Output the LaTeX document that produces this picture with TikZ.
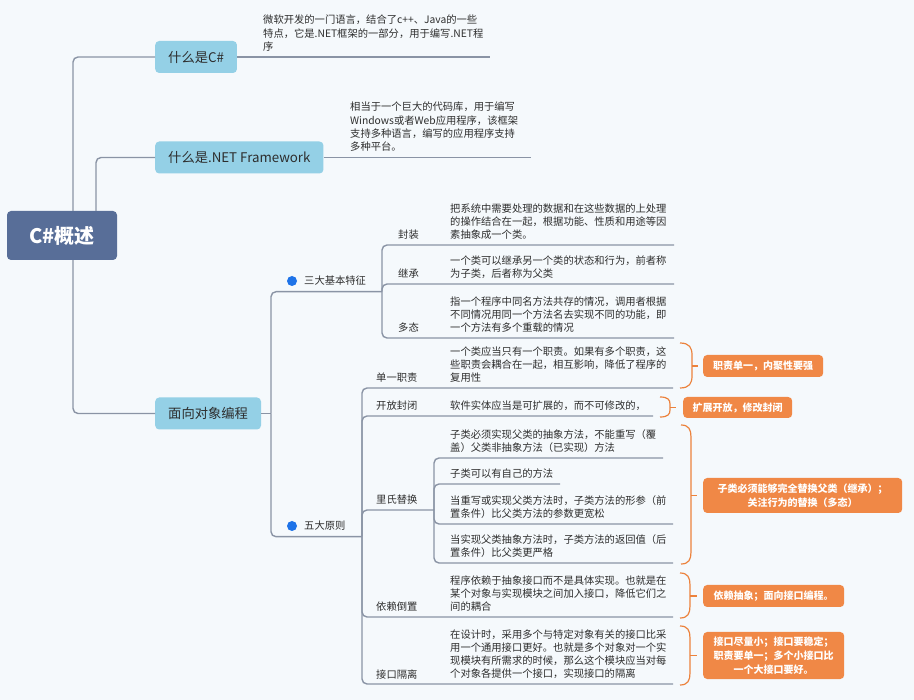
\documentclass[tikz,border=0pt]{standalone}
\usepackage{fontspec}
\setmainfont{Noto Sans CJK SC}
\definecolor{bgc}{RGB}{245,249,252}
\definecolor{linec}{RGB}{138,148,165}
\definecolor{topicblue}{RGB}{148,208,230}
\definecolor{rootblue}{RGB}{88,110,152}
\definecolor{textdark}{RGB}{45,45,45}
\definecolor{orangef}{RGB}{240,136,70}
\definecolor{orangel}{RGB}{236,130,60}
\definecolor{dotblue}{RGB}{30,115,232}
\tikzset{
  conn/.style={draw=linec, line width=1.4pt, rounded corners=5pt},
  topic/.style={fill=topicblue, rounded corners=4pt, text=textdark, font=\fontsize{13.3pt}{16pt}\selectfont, inner xsep=13pt, inner ysep=0pt, minimum height=32pt, anchor=west},
  rootnode/.style={fill=rootblue, rounded corners=4pt, text=white, font=\fontsize{20pt}{24pt}\selectfont\bfseries, minimum width=110pt, minimum height=49pt},
  desc/.style={inner sep=0pt, text=textdark, font=\fontsize{10.3pt}{13pt}\selectfont},
  lbl/.style={desc, anchor=base west},
  sumbox/.style={fill=orangef, rounded corners=4pt, text=white, font=\fontsize{10pt}{14pt}\selectfont\bfseries, align=center, inner sep=0pt, anchor=west},
  brk/.style={draw=orangel, line width=1.2pt},
  bdot/.style={circle, fill=dotblue, inner sep=0pt, minimum size=10pt},
}
% #1 name prefix, #2 x, #3 first baseline y, #4 lines
\newcommand\para[4]{%
  \foreach \t [count=\i] in {#4} {%
    \node[desc, anchor=base west] (#1\i) at (#2, {#3+(\i-1)*13.3}) {\t};
  }}
% #1 x0, #2 top, #3 bottom, #4 width, #5 radius
\newcommand\obrk[5]{%
  \draw[brk] (#1,#2) .. controls ({#1+#4*0.8},#2) and ({#1+#4},{#2+#5*0.4}) .. ({#1+#4},{#2+#5})
    -- ({#1+#4},{#3-#5}) .. controls ({#1+#4},{#3-#5*0.4}) and ({#1+#4*0.8},#3) .. (#1,#3);}
\begin{document}
\begin{tikzpicture}[x=1pt,y=-1pt]
\useasboundingbox (0,0) rectangle (914,700);
\fill[bgc] (0,0) rectangle (914,700);

% main nodes
\node[rootnode] (root) at (62,235.5) {C\#概述};
\node[topic] (csharp) at (155,57) {什么是C\#};
\node[topic] (net) at (155,157.5) {什么是.NET Framework};
\node[topic] (oop) at (155,413.5) {面向对象编程};

\draw[conn] ([xshift=11pt]root.north) |- (csharp.west);
\draw[conn] ([xshift=34pt]root.north) |- (net.west);
\draw[conn] ([xshift=11pt]root.south) |- (oop.west);

% top notes
\coordinate (csE) at (490,57);
\coordinate (netE) at (531,157.5);
\draw[conn] (csharp.east) -- (csE);
\draw[conn] (net.east) -- (netE);
\para{cs}{263}{24}{微软开发的一门语言，结合了c++、Java的一些, 特点，它是.NET框架的一部分，用于编写.NET程, 序}
\para{nt}{350}{111}{相当于一个巨大的代码库，用于编写, Windows或者Web应用程序，该框架, 支持多种语言，编写的应用程序支持, 多种平台。}

% OOP branch
\coordinate (oopJ) at (271,413.5);
\coordinate (sanJ) at (382,291.7);
\coordinate (wuJ) at (362,536.7);
\draw[conn] (oop.east) -- (oopJ);
\draw[conn] (oopJ) |- (sanJ);
\draw[conn] (oopJ) |- (wuJ);
\node[bdot] (d1) at (292,281) {};
\node[lbl] (san) at (304,285) {三大基本特征};
\node[bdot] (d2) at (292,526) {};
\node[lbl] (wu) at (304,530) {五大原则};

% three features
\coordinate (fzE) at (674,245);
\coordinate (jcE) at (674,284);
\coordinate (dtE) at (674,338);
\draw[conn] (sanJ) |- (fzE);
\draw[conn] (sanJ) |- (jcE);
\draw[conn] (sanJ) |- (dtE);
\node[lbl] (fz) at (398,239) {封装};
\node[lbl] (jc) at (398,278) {继承};
\node[lbl] (dt) at (398,332) {多态};
\para{fzd}{450}{212.4}{把系统中需要处理的数据和在这些数据的上处理, 的操作结合在一起，根据功能、性质和用途等因, 素抽象成一个类。}
\para{jcd}{450}{264.7}{一个类可以继承另一个类的状态和行为，前者称, 为子类，后者称为父类}
\para{dtd}{450}{305.4}{指一个程序中同名方法共存的情况，调用者根据, 不同情况用同一个方法名去实现不同的功能，即, 一个方法有多个重载的情况}

% five principles
\coordinate (dyE) at (673,388);
\coordinate (kfE) at (653,416);
\coordinate (lsJ) at (434,510);
\coordinate (ylE) at (673,617);
\coordinate (jkE) at (673,684);
\draw[conn] (wuJ) |- (dyE);
\draw[conn] (wuJ) |- (kfE);
\draw[conn] (wuJ) |- (lsJ);
\draw[conn] (wuJ) |- (ylE);
\draw[conn] (wuJ) |- (jkE);
\node[lbl] (dy) at (376,382) {单一职责};
\node[lbl] (kf) at (376,410) {开放封闭};
\node[lbl] (ls) at (376,504) {里氏替换};
\node[lbl] (yl) at (376,611) {依赖倒置};
\node[lbl] (jk) at (376,678) {接口隔离};
\para{dyd}{450}{355.4}{一个类应当只有一个职责。如果有多个职责，这, 些职责会耦合在一起，相互影响，降低了程序的, 复用性}
\para{kfd}{450}{410}{软件实体应当是可扩展的，而不可修改的，}
\para{yld}{450}{584.4}{程序依赖于抽象接口而不是具体实现。也就是在, 某个对象与实现模块之间加入接口，降低它们之, 间的耦合}
\para{jkd}{450}{638}{在设计时，采用多个与特定对象有关的接口比采, 用一个通用接口更好。也就是多个对象对一个实, 现模块有所需求的时候，那么这个模块应当对每, 个对象各提供一个接口，实现接口的隔离}

% Liskov children
\coordinate (ls1E) at (663,458);
\coordinate (ls2E) at (560,484);
\coordinate (ls3E) at (673,524);
\coordinate (ls4E) at (673,563);
\draw[conn] (lsJ) |- (ls1E);
\draw[conn] (lsJ) |- (ls2E);
\draw[conn] (lsJ) |- (ls3E);
\draw[conn] (lsJ) |- (ls4E);
\para{lsa}{450}{438.7}{子类必须实现父类的抽象方法，不能重写（覆, 盖）父类非抽象方法（已实现）方法}
\para{lsb}{450}{478}{子类可以有自己的方法}
\para{lsc}{450}{504.7}{当重写或实现父类方法时，子类方法的形参（前, 置条件）比父类方法的参数更宽松}
\para{lsd}{450}{543.7}{当实现父类抽象方法时，子类方法的返回值（后, 置条件）比父类更严格}

% summaries
\node[sumbox, minimum width=120pt, minimum height=22pt] (s1) at (703,366) {职责单一，内聚性要强};
\node[sumbox, minimum width=109pt, minimum height=21pt] (s2) at (683,407.5) {扩展开放，修改封闭};
\node[sumbox, minimum width=199pt, minimum height=35pt] (s3) at (703,495.5) {子类必须能够完全替换父类（继承）；\\关注行为的替换（多态）};
\node[sumbox, minimum width=141pt, minimum height=22pt] (s4) at (703,596) {依赖抽象；面向接口编程。};
\node[sumbox, minimum width=141pt, minimum height=47pt] (s5) at (703,655.5) {接口尽量小；接口要稳定；\\职责要单一；多个小接口比\\一个大接口要好。};

\obrk{680}{343}{388}{12}{12}
\obrk{660}{397}{417}{10}{7}
\obrk{681}{425}{564}{10}{12}
\obrk{680}{573}{618}{10}{12}
\obrk{680}{626}{685}{10}{12}
\draw[brk] ([xshift=-11pt]s1.west) -- ([xshift=-5pt]s1.west);
\draw[brk] ([xshift=-13pt]s2.west) -- ([xshift=-7pt]s2.west);
\draw[brk] ([xshift=-12pt]s3.west) -- ([xshift=-6pt]s3.west);
\draw[brk] ([xshift=-13pt]s4.west) -- ([xshift=-6pt]s4.west);
\draw[brk] ([xshift=-13pt]s5.west) -- ([xshift=-6pt]s5.west);
\end{tikzpicture}
\end{document}
